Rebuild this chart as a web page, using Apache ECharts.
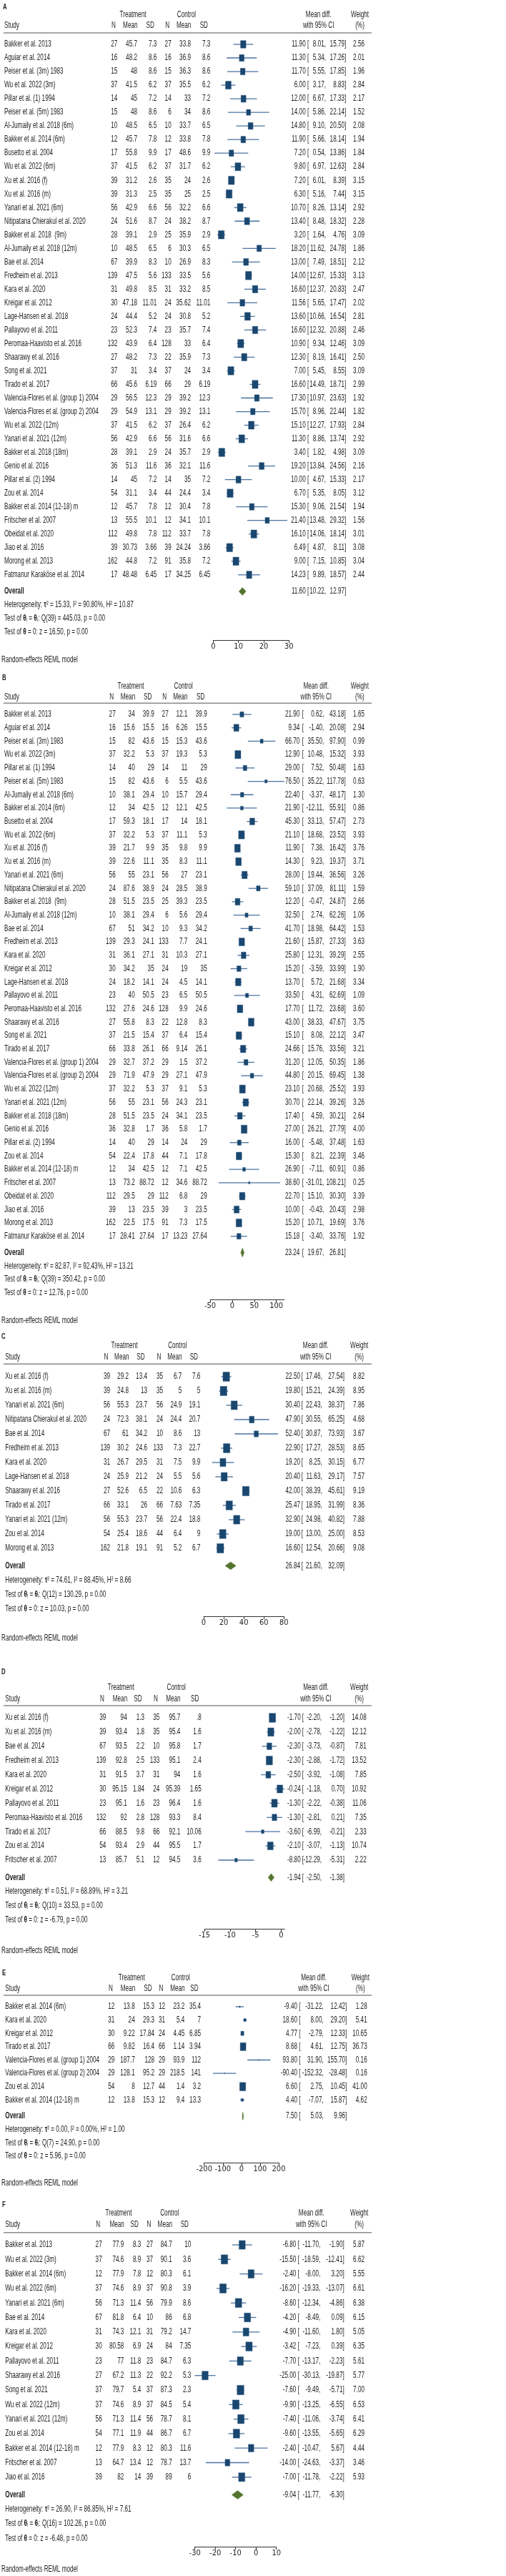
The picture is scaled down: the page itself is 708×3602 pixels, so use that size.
<!DOCTYPE html>
<html><head><meta charset="utf-8">
<script src="https://cdn.jsdelivr.net/npm/echarts@6/dist/echarts.min.js"></script>
<style>html,body{margin:0;padding:0;background:#fff}#c{width:708px;height:3602px}</style>
</head><body><div id="c"></div>
<script>
// ---------------- DATA ----------------
// Panel A
const A_study = ["Bakker et al. 2013","Aguiar et al. 2014","Peiser et al. (3m) 1983","Wu et al. 2022 (3m)","Pillar et al. (1) 1994","Peiser et al. (5m) 1983","Al-Jumaily et al. 2018 (6m)","Bakker et al. 2014 (6m)","Busetto et al. 2004","Wu et al. 2022 (6m)","Xu et al. 2016 (f)","Xu et al. 2016 (m)","Yanari et al. 2021 (6m)","Nitipatana Chierakul et al. 2020","Bakker et al. 2018  (9m)","Al-Jumaily et al. 2018 (12m)","Bae et al. 2014","Fredheim et al. 2013","Kara et al. 2020","Kreigar et al. 2012","Lage-Hansen et al. 2018","Pallayovo et al. 2011","Peromaa-Haavisto et al. 2016","Shaarawy et al. 2016","Song et al. 2021","Tirado et al. 2017","Valencia-Flores et al. (group 1) 2004","Valencia-Flores et al. (group 2) 2004","Wu et al. 2022 (12m)","Yanari et al. 2021 (12m)","Bakker et al. 2018 (18m)","Genio et al. 2016","Pillar et al. (2) 1994","Zou et al. 2014","Bakker et al. 2014 (12-18) m","Fritscher et al. 2007","Obeidat et al. 2020","Jiao et al. 2016","Morong et al. 2013","Fatmanur Karaköse et al. 2014"];
const A_tN = [27,16,15,37,14,15,10,12,17,37,39,39,56,24,28,10,67,139,31,30,24,23,132,27,37,66,29,29,37,56,28,36,14,54,12,13,112,39,162,17];
const A_tMean = [45.7,48.2,48,41.5,45,48,48.5,45.7,55.8,41.5,31.2,31.3,42.9,51.6,39.1,48.5,39.9,47.5,49.8,47.18,44.4,52.3,43.9,48.2,31,45.6,56.5,54.9,41.5,42.9,39.1,51.3,45,31.1,45.7,55.5,49.8,30.73,44.8,48.48];
const A_tSD = [7.3,8.6,8.6,6.2,7.2,8.6,6.5,7.8,9.9,6.2,2.6,2.5,6.6,8.7,2.9,6.5,8.3,5.6,8.5,11.01,5.2,7.4,6.4,7.3,3.4,6.19,12.3,13.1,6.2,6.6,2.9,11.6,7.2,3.4,7.8,10.1,7.8,3.66,7.2,6.45];
const A_cN = [27,16,15,37,14,6,10,12,17,37,35,35,56,24,25,6,10,133,31,24,24,23,128,22,37,66,29,29,37,56,24,36,14,44,12,12,112,39,91,17];
const A_cMean = [33.8,36.9,36.3,35.5,33,34,33.7,33.8,48.6,31.7,24,25,32.2,38.2,35.9,30.3,26.9,33.5,33.2,35.62,30.8,35.7,33,35.9,24,29,39.2,39.2,26.4,31.6,35.7,32.1,35,24.4,30.4,34.1,33.7,24.24,35.8,34.25];
const A_cSD = [7.3,8.6,8.6,6.2,7.2,8.6,6.5,7.8,9.9,6.2,2.6,2.5,6.6,8.7,2.9,6.5,8.3,5.6,8.5,11.01,5.2,7.4,6.4,7.3,3.4,6.19,12.3,13.1,6.2,6.6,2.9,11.6,7.2,3.4,7.8,10.1,7.8,3.66,7.2,6.45];
const A_md = [11.90,11.30,11.70,6.00,12.00,14.00,14.80,11.90,7.20,9.80,7.20,6.30,10.70,13.40,3.20,18.20,13.00,14.00,16.60,11.56,13.60,16.60,10.90,12.30,7.00,16.60,17.30,15.70,15.10,11.30,3.40,19.20,10.00,6.70,15.30,21.40,16.10,6.49,9.00,14.23];
const A_lo = [8.01,5.34,5.55,3.17,6.67,5.86,9.10,5.66,0.54,6.97,6.01,5.16,8.26,8.48,1.64,11.62,7.49,12.67,12.37,5.65,10.66,12.32,9.34,8.19,5.45,14.49,10.97,8.96,12.27,8.86,1.82,13.84,4.67,5.35,9.06,13.48,14.06,4.87,7.15,9.89];
const A_hi = [15.79,17.26,17.85,8.83,17.33,22.14,20.50,18.14,13.86,12.63,8.39,7.44,13.14,18.32,4.76,24.78,18.51,15.33,20.83,17.47,16.54,20.88,12.46,16.41,8.55,18.71,23.63,22.44,17.93,13.74,4.98,24.56,15.33,8.05,21.54,29.32,18.14,8.11,10.85,18.57];
const A_wt = [2.56,2.01,1.96,2.84,2.17,1.52,2.08,1.94,1.84,2.84,3.15,3.15,2.92,2.28,3.09,1.86,2.12,3.13,2.47,2.02,2.81,2.46,3.09,2.50,3.09,2.99,1.92,1.82,2.84,2.92,3.09,2.16,2.17,3.12,1.94,1.56,3.01,3.08,3.04,2.44];
const A_overall = [11.60,10.22,12.97];
const A_het = [15.33,90.80,10.87];
const A_Q = [39,445.03,0.00];
const A_Z = [16.50,0.00];
const A_ticks = [0,10,20,30];

// Panel B
const B_study = A_study.slice();
const B_tN = [27,16,15,37,14,15,10,12,17,37,39,39,56,24,28,10,67,139,31,30,24,23,132,27,37,66,29,29,37,56,28,36,14,54,12,13,112,39,162,17];
const B_tMean = [34,15.6,82,32.2,40,82,38.1,34,59.3,32.2,21.7,22.6,55,87.6,51.5,38.1,51,29.3,36.1,34.2,18.2,40,27.6,55.8,21.5,33.8,32.7,71.9,32.2,55,51.5,32.8,40,22.4,34,73.2,29.5,13,22.5,28.41];
const B_tSD = [39.9,15.5,43.6,5.3,29,43.6,29.4,42.5,18.1,5.3,9.9,11.1,23.1,38.9,23.5,29.4,34.2,24.1,27.1,35,14.1,50.5,24.6,8.3,15.4,26.1,37.2,47.9,5.3,23.1,23.5,1.7,29,17.8,42.5,88.72,29,23.5,17.5,27.64];
const B_cN = [27,16,15,37,14,6,10,12,17,37,35,35,56,24,25,6,10,133,31,24,24,23,128,22,37,66,29,29,37,56,24,36,14,44,12,12,112,39,91,17];
const B_cMean = [12.1,6.26,15.3,19.3,11,5.5,15.7,12.1,14,11.1,9.8,8.3,27,28.5,39.3,5.6,9.3,7.7,10.3,19,4.5,6.5,9.9,12.8,6.4,9.14,1.5,27.1,9.1,24.3,34.1,5.8,24,7.1,7.1,34.6,6.8,3,7.3,13.23];
const B_cSD = [39.9,15.5,43.6,5.3,29,43.6,29.4,42.5,18.1,5.3,9.9,11.1,23.1,38.9,23.5,29.4,34.2,24.1,27.1,35,14.1,50.5,24.6,8.3,15.4,26.1,37.2,47.9,5.3,23.1,23.5,1.7,29,17.8,42.5,88.72,29,23.5,17.5,27.64];
const B_md = [21.90,9.34,66.70,12.90,29.00,76.50,22.40,21.90,45.30,21.10,11.90,14.30,28.00,59.10,12.20,32.50,41.70,21.60,25.80,15.20,13.70,33.50,17.70,43.00,15.10,24.66,31.20,44.80,23.10,30.70,17.40,27.00,16.00,15.30,26.90,38.60,22.70,10.00,15.20,15.18];
const B_lo = [0.62,-1.40,35.50,10.48,7.52,35.22,-3.37,-12.11,33.13,18.68,7.38,9.23,19.44,37.09,-0.47,2.74,18.98,15.87,12.31,-3.59,5.72,4.31,11.72,38.33,8.08,15.76,12.05,20.15,20.68,22.14,4.59,26.21,-5.48,8.21,-7.11,-31.01,15.10,-0.43,10.71,-3.40];
const B_hi = [43.18,20.08,97.90,15.32,50.48,117.78,48.17,55.91,57.47,23.52,16.42,19.37,36.56,81.11,24.87,62.26,64.42,27.33,39.29,33.99,21.68,62.69,23.68,47.67,22.12,33.56,50.35,69.45,25.52,39.26,30.21,27.79,37.48,22.39,60.91,108.21,30.30,20.43,19.69,33.76];
const B_wt = [1.65,2.94,0.99,3.93,1.63,0.63,1.30,0.86,2.73,3.93,3.76,3.71,3.26,1.59,2.66,1.06,1.53,3.63,2.55,1.90,3.34,1.09,3.60,3.75,3.47,3.21,1.86,1.38,3.93,3.26,2.64,4.00,1.63,3.46,0.86,0.25,3.39,2.98,3.76,1.92];
const B_overall = [23.24,19.67,26.81];
const B_het = [82.87,92.43,13.21];
const B_Q = [39,350.42,0.00];
const B_Z = [12.76,0.00];
const B_ticks = [-50,0,50,100];

// Panel C
const C_study = ["Xu et al. 2016 (f)","Xu et al. 2016 (m)","Yanari et al. 2021 (6m)","Nitipatana Chierakul et al. 2020","Bae et al. 2014","Fredheim et al. 2013","Kara et al. 2020","Lage-Hansen et al. 2018","Shaarawy et al. 2016","Tirado et al. 2017","Yanari et al. 2021 (12m)","Zou et al. 2014","Morong et al. 2013"];
const C_tN = [39,39,56,24,67,139,31,24,27,66,56,54,162];
const C_tMean = [29.2,24.8,55.3,72.3,61,30.2,26.7,25.9,52.6,33.1,55.3,25.4,21.8];
const C_tSD = [13.4,13,23.7,38.1,34.2,24.6,29.5,21.2,6.5,26,23.7,18.6,19.1];
const C_cN = [35,35,56,24,10,133,31,24,22,66,56,44,91];
const C_cMean = [6.7,5,24.9,24.4,8.6,7.3,7.5,5.5,10.6,7.63,22.4,6.4,5.2];
const C_cSD = [7.6,5,19.1,20.7,13,22.7,9.9,5.6,6.3,7.35,18.8,9,6.7];
const C_md = [22.50,19.80,30.40,47.90,52.40,22.90,19.20,20.40,42.00,25.47,32.90,19.00,16.60];
const C_lo = [17.46,15.21,22.43,30.55,30.87,17.27,8.25,11.63,38.39,18.95,24.98,13.00,12.54];
const C_hi = [27.54,24.39,38.37,65.25,73.93,28.53,30.15,29.17,45.61,31.99,40.82,25.00,20.66];
const C_wt = [8.82,8.95,7.86,4.68,3.67,8.65,6.77,7.57,9.19,8.36,7.88,8.53,9.08];
const C_overall = [26.84,21.60,32.09];
const C_het = [74.61,88.45,8.66];
const C_Q = [12,130.29,0.00];
const C_Z = [10.03,0.00];
const C_ticks = [0,20,40,60,80];

// Panel D
const D_study = ["Xu et al. 2016 (f)","Xu et al. 2016 (m)","Bae et al. 2014","Fredheim et al. 2013","Kara et al. 2020","Kreigar et al. 2012","Pallayovo et al. 2011","Peromaa-Haavisto et al. 2016","Tirado et al. 2017","Zou et al. 2014","Fritscher et al. 2007"];
const D_tN = [39,39,67,139,31,30,23,132,66,54,13];
const D_tMean = [94,93.4,93.5,92.8,91.5,95.15,95.1,92,88.5,93.4,85.7];
const D_tSD = [1.3,1.8,2.2,2.5,3.7,1.84,1.6,2.8,9.8,2.9,5.1];
const D_cN = [35,35,10,133,31,24,23,128,66,44,12];
const D_cMean = [95.7,95.4,95.8,95.1,94,95.39,96.4,93.3,92.1,95.5,94.5];
const D_cSD = [0.8,1.6,1.7,2.4,1.6,1.65,1.6,8.4,10.06,1.7,3.6];
const D_md = [-1.70,-2.00,-2.30,-2.30,-2.50,-0.24,-1.30,-1.30,-3.60,-2.10,-8.80];
const D_lo = [-2.20,-2.78,-3.73,-2.88,-3.92,-1.18,-2.22,-2.81,-6.99,-3.07,-12.29];
const D_hi = [-1.20,-1.22,-0.87,-1.72,-1.08,0.70,-0.38,0.21,-0.21,-1.13,-5.31];
const D_wt = [14.08,12.12,7.81,13.52,7.85,10.92,11.06,7.35,2.33,10.74,2.22];
const D_overall = [-1.94,-2.50,-1.38];
const D_het = [0.51,68.89,3.21];
const D_Q = [10,33.53,0.00];
const D_Z = [-6.79,0.00];
const D_ticks = [-15,-10,-5,0];

// Panel E
const E_study = ["Bakker et al. 2014 (6m)","Kara et al. 2020","Kreigar et al. 2012","Tirado et al. 2017","Valencia-Flores et al. (group 1) 2004","Valencia-Flores et al. (group 2) 2004","Zou et al. 2014","Bakker et al. 2014 (12-18) m"];
const E_tN = [12,31,30,66,29,29,54,12];
const E_tMean = [13.8,24,9.22,9.82,187.7,128.1,8,13.8];
const E_tSD = [15.3,29.3,17.84,16.4,128,95.2,12.7,15.3];
const E_cN = [12,31,24,66,29,29,44,12];
const E_cMean = [23.2,5.4,4.45,1.14,93.9,218.5,1.4,9.4];
const E_cSD = [35.4,7,6.85,3.94,112,141,3.2,13.3];
const E_md = [-9.40,18.60,4.77,8.68,93.80,-90.40,6.60,4.40];
const E_lo = [-31.22,8.00,-2.79,4.61,31.90,-152.32,2.75,-7.07];
const E_hi = [12.42,29.20,12.33,12.75,155.70,-28.48,10.45,15.87];
const E_wt = [1.28,5.41,10.65,36.73,0.16,0.16,41.00,4.62];
const E_overall = [7.50,5.03,9.96];
const E_het = [0.00,0.00,1.00];
const E_Q = [7,24.90,0.00];
const E_Z = [5.96,0.00];
const E_ticks = [-200,-100,0,100,200];

// Panel F
const F_study = ["Bakker et al. 2013","Wu et al. 2022 (3m)","Bakker et al. 2014 (6m)","Wu et al. 2022 (6m)","Yanari et al. 2021 (6m)","Bae et al. 2014","Kara et al. 2020","Kreigar et al. 2012","Pallayovo et al. 2011","Shaarawy et al. 2016","Song et al. 2021","Wu et al. 2022 (12m)","Yanari et al. 2021 (12m)","Zou et al. 2014","Bakker et al. 2014 (12-18) m","Fritscher et al. 2007","Jiao et al. 2016"];
const F_tN = [27,37,12,37,56,67,31,30,23,27,37,37,56,54,12,13,39];
const F_tMean = [77.9,74.6,77.9,74.6,71.3,81.8,74.3,80.58,77,67.2,79.7,74.6,71.3,77.1,77.9,64.7,82];
const F_tSD = [8.3,8.9,7.8,8.9,11.4,6.4,12.1,6.9,11.8,11.3,5.4,8.9,11.4,11.9,8.3,13.4,14];
const F_cN = [27,37,12,37,56,10,31,24,23,22,37,37,56,44,12,12,39];
const F_cMean = [84.7,90.1,80.3,90.8,79.9,86,79.2,84,84.7,92.2,87.3,84.5,78.7,86.7,80.3,78.7,89];
const F_cSD = [10,3.6,6.1,3.9,8.6,6.8,14.7,7.35,6.3,5.3,2.3,5.4,8.1,6.7,11.6,13.7,6];
const F_md = [-6.80,-15.50,-2.40,-16.20,-8.60,-4.20,-4.90,-3.42,-7.70,-25.00,-7.60,-9.90,-7.40,-9.60,-2.40,-14.00,-7.00];
const F_lo = [-11.70,-18.59,-8.00,-19.33,-12.34,-8.49,-11.60,-7.23,-13.17,-30.13,-9.49,-13.25,-11.06,-13.55,-10.47,-24.63,-11.78];
const F_hi = [-1.90,-12.41,3.20,-13.07,-4.86,0.09,1.80,0.39,-2.23,-19.87,-5.71,-6.55,-3.74,-5.65,5.67,-3.37,-2.22];
const F_wt = [5.87,6.62,5.55,6.61,6.38,6.15,5.05,6.35,5.61,5.77,7.00,6.53,6.41,6.29,4.44,3.46,5.93];
const F_overall = [-9.04,-11.77,-6.30];
const F_het = [26.90,86.85,7.61];
const F_Q = [16,102.26,0.00];
const F_Z = [-6.48,0.00];
const F_ticks = [-30,-20,-10,0,10];

// ---------------- LAYOUT (pixels) ----------------
const LAYOUT = {
  A:{letter:[4,10], head1:21, head2:36, line:46, first:62, pitch:19.02, axis:895, note:923, studyX:6,
     cols:[164.3,192,219.3,239.7,267,294.3], treatC:186, ctrlC:261, mdC:445.7, wtC:503.5,
     ci:[427.7,430,456,484.3], wtR:510, tickPx:[298.3,404.3], maxH:11.7, diamH:10.7},
  B:{letter:[3,948], head1:959.3, head2:974.3, line:983.3, first:999, pitch:18.71, axis:1817, note:1847, studyX:6,
     cols:[161.7,188.7,215.7,235.7,262.3,289.7], treatC:183, ctrlC:256.7, mdC:442.3, wtC:503.3,
     ci:[419.3,422.7,453.3,483.7], wtR:510, tickPx:[294,386.7], maxH:11.5, diamH:12},
  C:{letter:[2,1869], head1:1881.7, head2:1897.7, line:1907.3, first:1925, pitch:20.0, axis:2260, note:2291, studyX:7.3,
     cols:[154,180,206,228,254.3,280.3], treatC:174, ctrlC:248.3, mdC:441.7, wtC:502.7,
     ci:[420,421.7,450.7,482], wtR:510, tickPx:[285,397.3], maxH:13.2, diamH:10.5},
  D:{letter:[2,2338], head1:2359.3, head2:2375.3, line:2385, first:2402, pitch:19.9, axis:2697, note:2728, studyX:7.3,
     cols:[148.3,177.7,202,223.3,252.3,281.7], treatC:169.3, ctrlC:246.7, mdC:442, wtC:502.7,
     ci:[420.7,422.7,450,482], wtR:512.7, tickPx:[286,393.3], maxH:12.6, diamH:10.5},
  E:{letter:[3,2759], head1:2765.3, head2:2780.3, line:2790, first:2806, pitch:18.62, axis:3024, note:3053, studyX:7.3,
     cols:[160.3,188.7,216,231,258.3,281], treatC:184.3, ctrlC:252.7, mdC:439, wtC:504.3,
     ci:[416,418.3,452.7,485.3], wtR:513.7, tickPx:[285.7,390], maxH:11.7, diamH:10.5},
  F:{letter:[3,3083], head1:3095, head2:3111, line:3121.7, first:3139, pitch:20.3, axis:3561, note:3593, studyX:7.3,
     cols:[142.7,173.3,197.3,214,240.7,267.3], treatC:166, ctrlC:237.3, mdC:435.7, wtC:502.7,
     ci:[414.3,416.7,448.3,481.7], wtR:510, tickPx:[272.7,386.7], maxH:13.3, diamH:11.5}
};

const PANELS = [
  {id:'A', study:A_study, tN:A_tN, tMean:A_tMean, tSD:A_tSD, cN:A_cN, cMean:A_cMean, cSD:A_cSD, md:A_md, lo:A_lo, hi:A_hi, wt:A_wt, overall:A_overall, het:A_het, q:A_Q, z:A_Z, ticks:A_ticks},
  {id:'B', study:B_study, tN:B_tN, tMean:B_tMean, tSD:B_tSD, cN:B_cN, cMean:B_cMean, cSD:B_cSD, md:B_md, lo:B_lo, hi:B_hi, wt:B_wt, overall:B_overall, het:B_het, q:B_Q, z:B_Z, ticks:B_ticks},
  {id:'C', study:C_study, tN:C_tN, tMean:C_tMean, tSD:C_tSD, cN:C_cN, cMean:C_cMean, cSD:C_cSD, md:C_md, lo:C_lo, hi:C_hi, wt:C_wt, overall:C_overall, het:C_het, q:C_Q, z:C_Z, ticks:C_ticks},
  {id:'D', study:D_study, tN:D_tN, tMean:D_tMean, tSD:D_tSD, cN:D_cN, cMean:D_cMean, cSD:D_cSD, md:D_md, lo:D_lo, hi:D_hi, wt:D_wt, overall:D_overall, het:D_het, q:D_Q, z:D_Z, ticks:D_ticks},
  {id:'E', study:E_study, tN:E_tN, tMean:E_tMean, tSD:E_tSD, cN:E_cN, cMean:E_cMean, cSD:E_cSD, md:E_md, lo:E_lo, hi:E_hi, wt:E_wt, overall:E_overall, het:E_het, q:E_Q, z:E_Z, ticks:E_ticks},
  {id:'F', study:F_study, tN:F_tN, tMean:F_tMean, tSD:F_tSD, cN:F_cN, cMean:F_cMean, cSD:F_cSD, md:F_md, lo:F_lo, hi:F_hi, wt:F_wt, overall:F_overall, het:F_het, q:F_Q, z:F_Z, ticks:F_ticks}
];

// ---------------- STYLE ----------------
const FONT = '"Liberation Sans", Arial, "DejaVu Sans", sans-serif';
const TICK_FONT = '"Liberation Sans Narrow", "Arial Narrow", "DejaVu Sans Condensed", "Liberation Sans", sans-serif';
const INK = '#1e1e1e';
const SX = 0.68;            // condensed look of the original typeface
const MARK = '#1a476f', CI_C = '#4a72a0', DIAM = '#55752f';
const OV_GAP = 0.22;        // extra gap (rows) before the Overall row
const HEAD_DX = [-2.5,0.5,-3.4,-2.5,0.3,-3.3];

function fmtN(v){ let s = String(v); if (s.indexOf('0.') === 0) s = s.slice(1); return s; }
function f2(v){ return v.toFixed(2); }

// ---------------- CHART ----------------
const chart = echarts.init(document.getElementById('c'));
const grid = [], xAxis = [], yAxis = [], series = [];

PANELS.forEach((P, g) => {
  const L = LAYOUT[P.id], t = P.ticks, n = P.study.length;
  const minV = Math.min(t[0], ...P.lo), maxV = Math.max(t[t.length-1], ...P.hi);
  const sc = (L.tickPx[1]-L.tickPx[0]) / (t[t.length-1]-t[0]);
  const left = L.tickPx[0] + (minV - t[0]) * sc;
  const width = (maxV - minV) * sc;
  grid.push({left: left, top: L.first, width: width, height: L.axis - L.first, containLabel: false, outerBoundsMode: 'none'});
  yAxis.push({gridIndex: g, type: 'value', min: 0, max: (L.axis - L.first) / L.pitch, inverse: true, show: false});
  xAxis.push({gridIndex: g, type: 'value', min: minV, max: maxV, position: 'bottom', interval: t[1]-t[0],
    axisLine: {show: true, onZero: false, lineStyle: {color: '#333', width: 1}},
    axisTick: {show: true, length: 4, inside: false, customValues: t, lineStyle: {color: '#333', width: 1}},
    axisLabel: {show: true, customValues: t, margin: 4, fontSize: 11, color: INK, fontFamily: TICK_FONT},
    splitLine: {show: false}});
  const maxWt = Math.max(...P.wt);
  series.push({type: 'custom', xAxisIndex: g, yAxisIndex: g, silent: true, clip: false, z: 3,
    data: P.md.map((m, i) => [m, P.lo[i], P.hi[i], P.wt[i], i]),
    encode: {x: [0,1,2], y: 4},
    renderItem: function (params, api) {
      const r = api.value(4);
      const a = api.coord([api.value(1), r]), b = api.coord([api.value(2), r]), c = api.coord([api.value(0), r]);
      const h = Math.max(1.2, L.maxH * Math.sqrt(api.value(3) / maxWt)), w = h * 0.72;
      return {type: 'group', children: [
        {type: 'line', shape: {x1: a[0], y1: a[1], x2: b[0], y2: b[1]}, style: {stroke: CI_C, lineWidth: 1.3}},
        {type: 'rect', shape: {x: c[0]-w/2, y: c[1]-h/2, width: w, height: h}, style: {fill: MARK, stroke: '#2a5782', lineWidth: 0.4}}
      ]};
    }});
  series.push({type: 'custom', xAxisIndex: g, yAxisIndex: g, silent: true, clip: false, z: 3,
    data: [[P.overall[0], P.overall[1], P.overall[2], n + OV_GAP]],
    encode: {x: [0,1,2], y: 3},
    renderItem: function (params, api) {
      const r = api.value(3);
      const lo = api.coord([api.value(1), r]), hi = api.coord([api.value(2), r]), e = api.coord([api.value(0), r]);
      const hh = L.diamH / 2;
      return {type: 'polygon', shape: {points: [[lo[0], e[1]], [e[0], e[1]-hh], [hi[0], e[1]], [e[0], e[1]+hh]]},
        style: {fill: DIAM, stroke: DIAM, lineWidth: 0.8}};
    }});
});

chart.setOption({animation: false, backgroundColor: '#fff', grid: grid, xAxis: xAxis, yAxis: yAxis, series: series});

// ---------------- TABLE TEXT ----------------
function txt(x, y, s, align, extra) {
  const st = Object.assign({text: s, x: 0, y: 0, align: align, textAlign: align, verticalAlign: 'middle', textVerticalAlign: 'middle',
    fontSize: 12, fontFamily: FONT, fill: INK}, extra || {});
  return {type: 'text', x: x, y: y, scaleX: SX, scaleY: 1, silent: true, z: 10, style: st};
}
const RICH = {b: {fontWeight: 'bold', fontSize: 12, fontFamily: FONT, fill: INK}};
const els = [];

PANELS.forEach((P, g) => {
  const L = LAYOUT[P.id], n = P.study.length;
  const yRow = i => chart.convertToPixel({yAxisIndex: g}, i);
  // panel letter + headers
  els.push(txt(L.letter[0], L.letter[1], P.id, 'left', {fontWeight: 'bold', fontSize: 11.5}));
  els.push(txt(L.treatC, L.head1, 'Treatment', 'center'));
  els.push(txt(L.ctrlC, L.head1, 'Control', 'center'));
  els.push(txt(L.mdC, L.head1, 'Mean diff.', 'center'));
  els.push(txt(L.mdC, L.head2, 'with 95% CI', 'center'));
  els.push(txt(L.wtC, L.head1, 'Weight', 'center'));
  els.push(txt(L.wtC, L.head2, '(%)', 'center'));
  els.push(txt(L.studyX, L.head2, 'Study', 'left'));
  ['N','Mean','SD','N','Mean','SD'].forEach((h, k) => els.push(txt(L.cols[k] + HEAD_DX[k], L.head2, h, 'right')));
  els.push({type: 'line', silent: true, z: 10, shape: {x1: 5, y1: L.line, x2: 520, y2: L.line}, style: {stroke: '#8a8a8a', lineWidth: 1.6}});
  // study rows
  for (let i = 0; i < n; i++) {
    const y = yRow(i);
    els.push(txt(L.studyX, y, P.study[i], 'left'));
    [P.tN, P.tMean, P.tSD, P.cN, P.cMean, P.cSD].forEach((arr, k) => els.push(txt(L.cols[k], y, fmtN(arr[i]), 'right')));
    els.push(txt(L.ci[0], y, f2(P.md[i]), 'right'));
    els.push(txt(L.ci[1], y, '[', 'left'));
    els.push(txt(L.ci[2], y, f2(P.lo[i]) + ',', 'right'));
    els.push(txt(L.ci[3], y, f2(P.hi[i]) + ']', 'right'));
    els.push(txt(L.wtR, y, f2(P.wt[i]), 'right'));
  }
  // overall
  const yo = yRow(n + OV_GAP);
  els.push(txt(L.studyX, yo, 'Overall', 'left', {fontWeight: 'bold'}));
  els.push(txt(L.ci[0], yo, f2(P.overall[0]), 'right'));
  els.push(txt(L.ci[1], yo, '[', 'left'));
  els.push(txt(L.ci[2], yo, f2(P.overall[1]) + ',', 'right'));
  els.push(txt(L.ci[3], yo, f2(P.overall[2]) + ']', 'right'));
  // statistics
  els.push(txt(L.studyX, yRow(n + OV_GAP + 1),
    'Heterogeneity: {b|τ}² = ' + f2(P.het[0]) + ', I² = ' + f2(P.het[1]) + '%, H² = ' + f2(P.het[2]), 'left', {rich: RICH}));
  els.push(txt(L.studyX, yRow(n + OV_GAP + 2),
    'Test of {b|θ}ᵢ = {b|θ}ⱼ: Q(' + P.q[0] + ') = ' + f2(P.q[1]) + ', p = ' + f2(P.q[2]), 'left', {rich: RICH}));
  els.push(txt(L.studyX, yRow(n + OV_GAP + 3),
    'Test of {b|θ} = 0: z = ' + f2(P.z[0]) + ', p = ' + f2(P.z[1]), 'left', {rich: RICH}));
  els.push(txt(2, L.note, 'Random-effects REML model', 'left'));
});

chart.setOption({graphic: {elements: els}});
</script></body></html>
